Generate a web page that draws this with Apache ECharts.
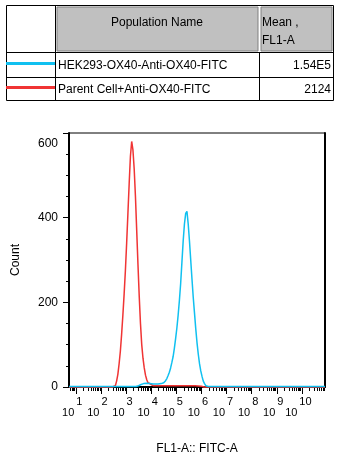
<!DOCTYPE html>
<html>
<head>
<meta charset="utf-8">
<script src="https://cdn.jsdelivr.net/npm/echarts@6/dist/echarts.min.js"></script>
<style>
html,body{margin:0;padding:0;background:#fff;}
#c{width:341px;height:460px;}
</style>
</head>
<body>
<div id="c"></div>
<script>
// ---- data ----
const populations = ['HEK293-OX40-Anti-OX40-FITC', 'Parent Cell+Anti-OX40-FITC'];
const means = ['1.54E5', '2124'];
const xExponents = [1, 2, 3, 4, 5, 6, 7, 8, 9, 10];   // x tick labels 10^n
const yTickValues = [0, 200, 400, 600];

// log10(FL1-A) bin centres and counts
const redX = [0.73, 2.45, 2.50, 2.55, 2.60, 2.65, 2.70, 2.75, 2.80, 2.85, 2.90, 2.95, 3.00, 3.05, 3.10, 3.15, 3.20, 3.25, 3.30, 3.35, 3.40, 3.45, 3.50, 3.55, 3.60, 3.65, 3.70, 3.75, 3.80, 3.85, 3.90, 3.95, 4.00, 4.05, 4.10, 4.50, 5.00, 5.50, 6.00, 6.10, 10.92];
const redY = [0, 0, 1, 3, 6, 14, 30, 55, 85, 125, 170, 220, 275, 340, 410, 480, 545, 580, 560, 515, 450, 370, 290, 215, 150, 100, 68, 45, 28, 17, 10, 7, 5, 4, 3, 3, 3, 3, 2, 0, 0];

const cyanX = [0.73, 3.40, 3.45, 3.50, 3.55, 3.60, 3.65, 3.70, 3.75, 3.80, 3.85, 3.90, 3.95, 4.00, 4.05, 4.10, 4.15, 4.20, 4.25, 4.30, 4.35, 4.40, 4.45, 4.50, 4.55, 4.60, 4.65, 4.70, 4.75, 4.80, 4.85, 4.90, 4.95, 5.00, 5.05, 5.10, 5.15, 5.20, 5.25, 5.30, 5.35, 5.40, 5.45, 5.50, 5.55, 5.60, 5.65, 5.70, 5.75, 5.80, 5.85, 5.90, 5.95, 6.00, 6.05, 6.10, 6.15, 6.20, 6.25, 6.30, 10.92];
const cyanY = [1, 1, 2, 3, 5, 6, 7, 8, 9, 9, 9, 8, 8, 8, 7, 7, 7, 7, 7, 7, 8, 8, 9, 10, 12, 15, 20, 27, 35, 45, 58, 72, 92, 115, 140, 170, 205, 245, 295, 345, 385, 410, 415, 385, 345, 300, 255, 212, 175, 138, 105, 78, 55, 38, 25, 14, 8, 3, 1, 1, 1];

// ---- build ----
const CYAN = '#10c0f0';
const RED = '#f03434';
const FONT = '"Liberation Sans", Arial, sans-serif';
const X_MIN = 0.73, X_MAX = 10.92;
const LABEL_SHIFT = 0.12; // labels sit slightly left of their decade tick

function pairs(xs, ys) { return xs.map((x, i) => [x, ys[i]]); }

const minorTicks = [];
for (let n = 0; n <= 10; n++) {
  for (let k = 2; k <= 9; k++) {
    const v = n + Math.log10(k);
    if (v > X_MIN && v < X_MAX) minorTicks.push(v);
  }
}
const labelPositions = xExponents.map(e => e - LABEL_SHIFT);

const chart = echarts.init(document.getElementById('c'), null, {renderer: 'canvas'});

const graphic = [
  {type: 'rect', shape: {x: 57, y: 7, width: 201, height: 44}, style: {fill: '#c0c0c0', stroke: '#808080', lineWidth: 1}},
  {type: 'rect', shape: {x: 261, y: 7, width: 71, height: 44}, style: {fill: '#c0c0c0', stroke: '#808080', lineWidth: 1}},
  {type: 'rect', shape: {x: 6.5, y: 5.5, width: 327, height: 95}, style: {fill: 'none', stroke: '#000', lineWidth: 1}},
  {type: 'line', shape: {x1: 55.5, y1: 5, x2: 55.5, y2: 101}, style: {stroke: '#000', lineWidth: 1}},
  {type: 'line', shape: {x1: 6, y1: 52.5, x2: 334, y2: 52.5}, style: {stroke: '#000', lineWidth: 1}},
  {type: 'line', shape: {x1: 6, y1: 77.5, x2: 334, y2: 77.5}, style: {stroke: '#000', lineWidth: 1}},
  {type: 'line', shape: {x1: 259.5, y1: 52, x2: 259.5, y2: 101}, style: {stroke: '#000', lineWidth: 1}},
  {type: 'line', shape: {x1: 6, y1: 63.5, x2: 55, y2: 63.5}, style: {stroke: CYAN, lineWidth: 3}},
  {type: 'line', shape: {x1: 6, y1: 87.5, x2: 55, y2: 87.5}, style: {stroke: RED, lineWidth: 3}},
  {type: 'text', style: {text: 'Population Name', x: 157, y: 23, font: '12px ' + FONT, fill: '#000', align: 'center', verticalAlign: 'middle'}},
  {type: 'text', style: {text: 'Mean ,', x: 262, y: 23, font: '12px ' + FONT, fill: '#000', align: 'left', verticalAlign: 'middle'}},
  {type: 'text', style: {text: 'FL1-A', x: 262, y: 41, font: '12px ' + FONT, fill: '#000', align: 'left', verticalAlign: 'middle'}},
  {type: 'text', style: {text: populations[0], x: 58, y: 65.5, font: '12px ' + FONT, fill: '#000', align: 'left', verticalAlign: 'middle'}},
  {type: 'text', style: {text: means[0], x: 331, y: 65.5, font: '12px ' + FONT, fill: '#000', align: 'right', verticalAlign: 'middle'}},
  {type: 'text', style: {text: populations[1], x: 58, y: 89.5, font: '12px ' + FONT, fill: '#000', align: 'left', verticalAlign: 'middle'}},
  {type: 'text', style: {text: means[1], x: 331, y: 89.5, font: '12px ' + FONT, fill: '#000', align: 'right', verticalAlign: 'middle'}}
];

const option = {
  animation: false,
  backgroundColor: '#fff',
  textStyle: {fontFamily: FONT},
  graphic: graphic,
  grid: {left: 69, top: 133, right: 16, bottom: 73, show: true, borderColor: '#000', borderWidth: 1, backgroundColor: 'transparent'},
  xAxis: [
    {
      type: 'value', min: X_MIN, max: X_MAX, position: 'bottom',
      name: 'FL1-A:: FITC-A', nameLocation: 'middle', nameGap: 56,
      nameTextStyle: {fontSize: 12, color: '#000', fontFamily: FONT},
      axisLine: {show: true, onZero: false, lineStyle: {color: '#000', width: 2}},
      axisTick: {show: true, customValues: xExponents, length: 7, lineStyle: {color: '#000', width: 1}},
      axisLabel: {
        customValues: labelPositions, margin: 9, color: '#000',
        hideOverlap: false, showMinLabel: true, showMaxLabel: true,
        formatter: v => '{b|10}{s|' + Math.round(v) + '}',
        rich: {
          b: {fontSize: 11, fontFamily: FONT, color: '#000', lineHeight: 22, verticalAlign: 'bottom'},
          s: {fontSize: 11, fontFamily: FONT, color: '#000', lineHeight: 22, verticalAlign: 'top', padding: [0, 1, 0, 2]}
        }
      },
      splitLine: {show: false}
    },
    {
      type: 'value', min: X_MIN, max: X_MAX, position: 'bottom',
      axisLine: {show: false},
      axisTick: {show: true, customValues: minorTicks, length: 4, lineStyle: {color: '#000', width: 1}},
      axisLabel: {show: false},
      splitLine: {show: false}
    }
  ],
  yAxis: [
    {
      type: 'value', min: 0, max: 600, interval: 200, position: 'left',
      name: 'Count', nameLocation: 'middle', nameGap: 47, nameRotate: 90,
      nameTextStyle: {fontSize: 12, color: '#000', fontFamily: FONT},
      axisLine: {show: true, lineStyle: {color: '#000', width: 2}},
      axisTick: {show: true, length: 6, lineStyle: {color: '#000', width: 1}},
      minorTick: {show: true, splitNumber: 4, length: 3, lineStyle: {color: '#000', width: 1}},
      axisLabel: {
        margin: 11, color: '#000', fontSize: 12, fontFamily: FONT,
        formatter: v => (v === yTickValues[yTickValues.length - 1] ? '{t|' + v + '}' : String(v)),
        rich: {t: {fontSize: 12, fontFamily: FONT, color: '#000', padding: [22, 0, 0, 0]}}
      },
      splitLine: {show: false}
    },
    {
      type: 'value', min: 0, max: 600, position: 'right',
      axisLine: {show: true, lineStyle: {color: '#000', width: 2}},
      axisTick: {show: false}, axisLabel: {show: false}, splitLine: {show: false}
    }
  ],
  series: [
    {
      name: populations[1], type: 'line', step: 'middle', showSymbol: false, clip: false,
      data: pairs(redX, redY), lineStyle: {color: RED, width: 1.5}, itemStyle: {color: RED}
    },
    {
      name: populations[0], type: 'line', step: 'middle', showSymbol: false, clip: false,
      data: pairs(cyanX, cyanY), lineStyle: {color: CYAN, width: 1.5}, itemStyle: {color: CYAN}
    }
  ]
};
chart.setOption(option);
</script>
</body>
</html>
